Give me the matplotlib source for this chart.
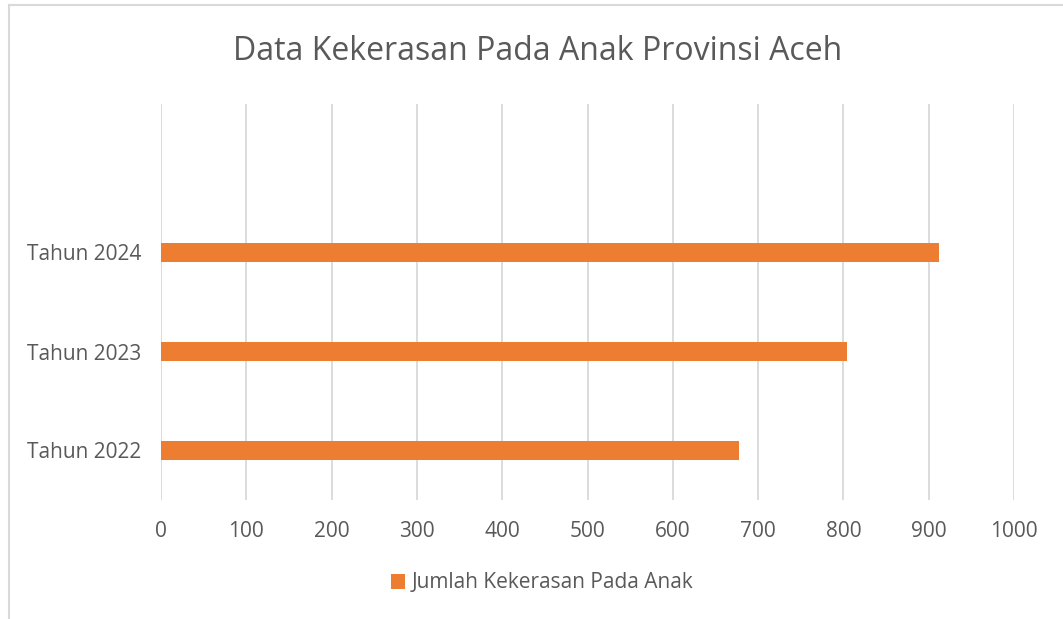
import matplotlib

matplotlib.use("Agg")
import matplotlib.pyplot as plt
from matplotlib.lines import Line2D
from matplotlib.patches import Patch

# data
categories = ["Tahun 2022", "Tahun 2023", "Tahun 2024"]
values = [678, 804, 912]
series_name = "Jumlah Kekerasan Pada Anak"
title = "Data Kekerasan Pada Anak Provinsi Aceh"
xticks = list(range(0, 1001, 100))

W, H = 1063, 619
BAR = "#ED7D31"
TXT = "#595959"
GRID = "#D9D9D9"

plt.rcParams["font.family"] = ["Open Sans", "DejaVu Sans"]

fig = plt.figure(figsize=(W / 100, H / 100), dpi=100)
ax = fig.add_axes([161 / W, 1 - 500 / H, (1014 - 161) / W, (500 - 104) / H])

ypos = list(range(len(categories)))
ax.barh(ypos, values, height=0.2, color=BAR, zorder=3)

ax.set_xlim(0, 1000)
ax.set_ylim(-0.5, 3.5)
ax.set_xticks(xticks)
ax.set_xticklabels([str(t) for t in xticks])
ax.set_yticks(ypos)
ax.set_yticklabels(categories)
ax.tick_params(axis="x", length=0, pad=15, labelsize=15, labelcolor=TXT)
ax.tick_params(axis="y", length=0, pad=14, labelsize=15, labelcolor=TXT)
ax.xaxis.grid(True, color=GRID, linewidth=1.3, zorder=0)
for s in ax.spines.values():
    s.set_visible(False)

fig.text(538 / W, 1 - 51 / H, title, ha="center", va="center",
         fontsize=23, color=TXT)

handle = Patch(facecolor=BAR, edgecolor="none")
fig.legend([handle], [series_name], loc="center",
           bbox_to_anchor=(542 / W, 1 - 583 / H), frameon=False,
           fontsize=15, labelcolor=TXT, handlelength=0.7, handleheight=0.7,
           handletextpad=0.3)

# chart border (left and top edges visible in the crop)
fig.add_artist(Line2D([8.5 / W, 8.5 / W], [0, 1 - 4.5 / H],
                      transform=fig.transFigure, color=GRID, linewidth=1.5))
fig.add_artist(Line2D([8.5 / W, 1], [1 - 4.5 / H, 1 - 4.5 / H],
                      transform=fig.transFigure, color=GRID, linewidth=1.5))

fig.savefig("out.png", dpi=100, facecolor="white")
